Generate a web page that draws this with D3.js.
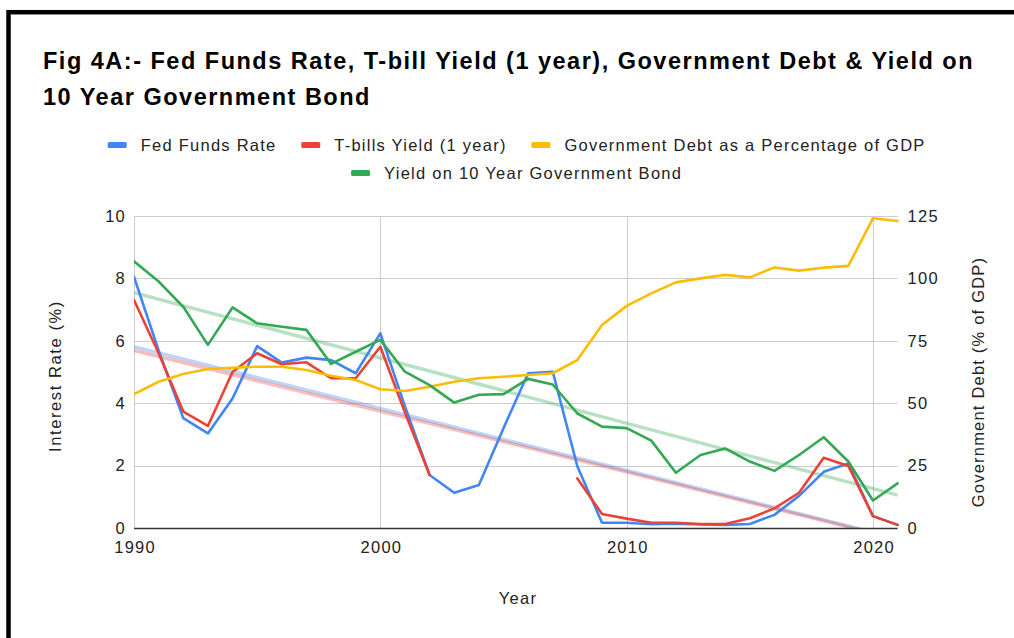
<!DOCTYPE html>
<html>
<head>
<meta charset="utf-8">
<script src="https://cdn.jsdelivr.net/npm/d3@7"></script>
<style>
  html, body { margin: 0; padding: 0; background: #fff; }
  svg { display: block; font-family: "Liberation Sans", Arial, sans-serif; }
</style>
</head>
<body>
<svg id="chart" width="1014" height="638"></svg>
<script>
// ---- data ----
const years = d3.range(1990, 2022);
const fedFunds = [8.05, 5.69, 3.52, 3.03, 4.15, 5.83, 5.30, 5.46, 5.38, 4.96, 6.24, 3.90, 1.70, 1.13, 1.38, 3.20, 4.96, 5.01, 1.97, 0.17, 0.17, 0.12, 0.14, 0.11, 0.10, 0.13, 0.42, 1.03, 1.80, 2.07, 0.38, 0.10];
const tBills = [7.31, 5.60, 3.73, 3.27, 5.00, 5.60, 5.25, 5.31, 4.80, 4.80, 5.81, 3.70, 1.70, null, null, null, null, null, 1.59, 0.45, 0.30, 0.17, 0.17, 0.13, 0.13, 0.31, 0.63, 1.13, 2.25, 1.99, 0.38, 0.10];
const govDebt = [53.6, 58.6, 61.7, 63.7, 64.2, 64.6, 64.6, 63.3, 61.0, 59.3, 55.6, 54.9, 56.6, 58.6, 60.0, 60.6, 61.3, 62.0, 67.3, 81.3, 89.0, 94.0, 98.4, 100.0, 101.4, 100.4, 104.4, 103.1, 104.3, 105.0, 124.1, 123.0];
const bond10 = [8.55, 7.90, 7.09, 5.87, 7.07, 6.56, 6.45, 6.35, 5.26, 5.65, 6.03, 5.01, 4.58, 4.02, 4.27, 4.29, 4.78, 4.60, 3.67, 3.25, 3.20, 2.80, 1.77, 2.34, 2.55, 2.13, 1.83, 2.34, 2.91, 2.13, 0.88, 1.43];

const leftTicks = [0, 2, 4, 6, 8, 10];
const rightTicks = [0, 25, 50, 75, 100, 125];
const yearTicks = [1990, 2000, 2010, 2020];

const titleLines = [
  "Fig 4A:- Fed Funds Rate, T-bill Yield (1 year), Government Debt & Yield on",
  "10 Year Government Bond"
];

const series = [
  { name: "Fed Funds Rate", values: fedFunds, color: "#4285F4", axis: "left", trend: true },
  { name: "T-bills Yield (1 year)", values: tBills, color: "#EA4335", axis: "left", trend: true },
  { name: "Government Debt as a Percentage of GDP", values: govDebt, color: "#FBBC04", axis: "right", trend: false },
  { name: "Yield on 10 Year Government Bond", values: bond10, color: "#34A853", axis: "left", trend: true }
];

// ---- layout ----
const svg = d3.select("#chart");
const plot = { left: 134, right: 897.6, top: 216, bottom: 528 };
const FONT_TXT = "#222";
const FS = 16.5;        // body text size
const LS = 1.25;        // body letter spacing

const x = d3.scaleLinear().domain([1990, 2021]).range([plot.left, plot.right]);
const yL = d3.scaleLinear().domain([0, 10]).range([plot.bottom, plot.top]);
const yR = d3.scaleLinear().domain([0, 125]).range([plot.bottom, plot.top]);

svg.append("rect").attr("width", 1014).attr("height", 638).attr("fill", "#fff");

// outer frame
svg.append("rect")
  .attr("x", 8.5).attr("y", 12.2)
  .attr("width", 1100).attr("height", 700)
  .attr("fill", "none").attr("stroke", "#000").attr("stroke-width", 4.5);

// title
const title = svg.append("text")
  .attr("x", 43).attr("y", 69)
  .attr("font-size", 23.5).attr("font-weight", "bold").attr("fill", "#000")
  .attr("letter-spacing", 1.5);
titleLines.forEach((t, i) => {
  title.append("tspan").attr("x", 43).attr("dy", i === 0 ? 0 : 35.5).text(t);
});

// grid
const grid = svg.append("g");
grid.selectAll("line.h").data(leftTicks.filter(d => d > 0)).join("line")
  .attr("x1", plot.left).attr("x2", plot.right)
  .attr("y1", d => Math.round(yL(d)) + 0.5).attr("y2", d => Math.round(yL(d)) + 0.5)
  .attr("stroke", "#cccccc").attr("stroke-width", 1);
grid.selectAll("line.v").data(yearTicks).join("line")
  .attr("x1", d => Math.round(x(d)) + 0.5).attr("x2", d => Math.round(x(d)) + 0.5)
  .attr("y1", plot.top).attr("y2", plot.bottom)
  .attr("stroke", "#cccccc").attr("stroke-width", 1);

// clip region for lines
svg.append("clipPath").attr("id", "plotClip").append("rect")
  .attr("x", plot.left).attr("y", plot.top - 4)
  .attr("width", plot.right - plot.left + 2).attr("height", plot.bottom - plot.top + 4);

const lines = svg.append("g").attr("clip-path", "url(#plotClip)");

// least-squares trendlines
function fitLine(vals) {
  const pts = years.map((yr, i) => [yr, vals[i]]).filter(p => p[1] != null);
  const mx = d3.mean(pts, p => p[0]), my = d3.mean(pts, p => p[1]);
  const sxy = d3.sum(pts, p => (p[0] - mx) * (p[1] - my));
  const sxx = d3.sum(pts, p => (p[0] - mx) ** 2);
  const b = sxy / sxx;
  return yr => my + b * (yr - mx);
}

series.filter(s => s.trend).forEach(s => {
  const f = fitLine(s.values);
  const ends = [1990, 2021];
  lines.append("path")
    .attr("d", d3.line().x(d => x(d)).y(d => yL(f(d)))(ends))
    .attr("fill", "none").attr("stroke", s.color)
    .attr("stroke-opacity", 0.35).attr("stroke-width", 3.5);
});

// baseline
svg.append("line")
  .attr("x1", plot.left).attr("x2", plot.right)
  .attr("y1", plot.bottom + 0.5).attr("y2", plot.bottom + 0.5)
  .attr("stroke", "#333").attr("stroke-width", 1.5);

// series lines
series.forEach(s => {
  const ys = s.axis === "left" ? yL : yR;
  const gen = d3.line()
    .defined(d => d[1] != null)
    .x(d => x(d[0])).y(d => ys(d[1]));
  lines.append("path")
    .attr("d", gen(years.map((yr, i) => [yr, s.values[i]])))
    .attr("fill", "none").attr("stroke", s.color)
    .attr("stroke-width", 2.6).attr("stroke-linejoin", "round").attr("stroke-linecap", "round");
});

// axes
const axisLeft = svg.append("g").attr("transform", `translate(${plot.left - 8},0)`)
  .call(d3.axisLeft(yL).tickValues(leftTicks).tickSize(0).tickPadding(0).tickFormat(d3.format("d")));
const axisRight = svg.append("g").attr("transform", `translate(${plot.right + 10},0)`)
  .call(d3.axisRight(yR).tickValues(rightTicks).tickSize(0).tickPadding(0).tickFormat(d3.format("d")));
const axisBottom = svg.append("g").attr("transform", `translate(0,${plot.bottom + 9})`)
  .call(d3.axisBottom(x).tickValues(yearTicks).tickSize(0).tickPadding(0).tickFormat(d3.format("d")));
[axisLeft, axisRight, axisBottom].forEach(a => {
  a.select(".domain").remove();
  a.selectAll("text").attr("font-size", FS).attr("fill", FONT_TXT)
    .attr("letter-spacing", LS)
    .attr("font-family", "Liberation Sans, Arial, sans-serif");
});
axisBottom.selectAll("text").attr("dy", "0.95em").attr("dx", LS / 2);

// axis titles
svg.append("text").attr("x", 518).attr("y", 604).attr("text-anchor", "middle")
  .attr("font-size", FS).attr("letter-spacing", LS).attr("fill", FONT_TXT).text("Year");
svg.append("text").attr("transform", "translate(61,376) rotate(-90)").attr("text-anchor", "middle")
  .attr("font-size", FS).attr("letter-spacing", 1.6).attr("fill", FONT_TXT).text("Interest Rate (%)");
svg.append("text").attr("transform", "translate(984,382) rotate(-90)").attr("text-anchor", "middle")
  .attr("font-size", FS).attr("letter-spacing", 1.2).attr("fill", FONT_TXT).text("Government Debt (% of GDP)");

// legend (two centred rows)
const legendRows = [[0, 1, 2], [3]];
const rowY = [145, 173];
const legendCenter = 516;
legendRows.forEach((row, ri) => {
  const g = svg.append("g");
  let cx = 0;
  row.forEach((si, k) => {
    const s = series[si];
    const item = g.append("g").attr("transform", `translate(${cx},0)`);
    item.append("rect").attr("x", 0).attr("y", rowY[ri] - 3).attr("width", 19).attr("height", 6)
      .attr("rx", 1.5).attr("fill", s.color);
    const t = item.append("text").attr("x", 33).attr("y", rowY[ri]).attr("dy", "0.35em")
      .attr("font-size", FS).attr("letter-spacing", LS).attr("fill", FONT_TXT).text(s.name);
    cx += 33 + t.node().getComputedTextLength() - LS + 26;
  });
  const total = cx - 26;
  g.attr("transform", `translate(${legendCenter - total / 2},0)`);
});
</script>
</body>
</html>
